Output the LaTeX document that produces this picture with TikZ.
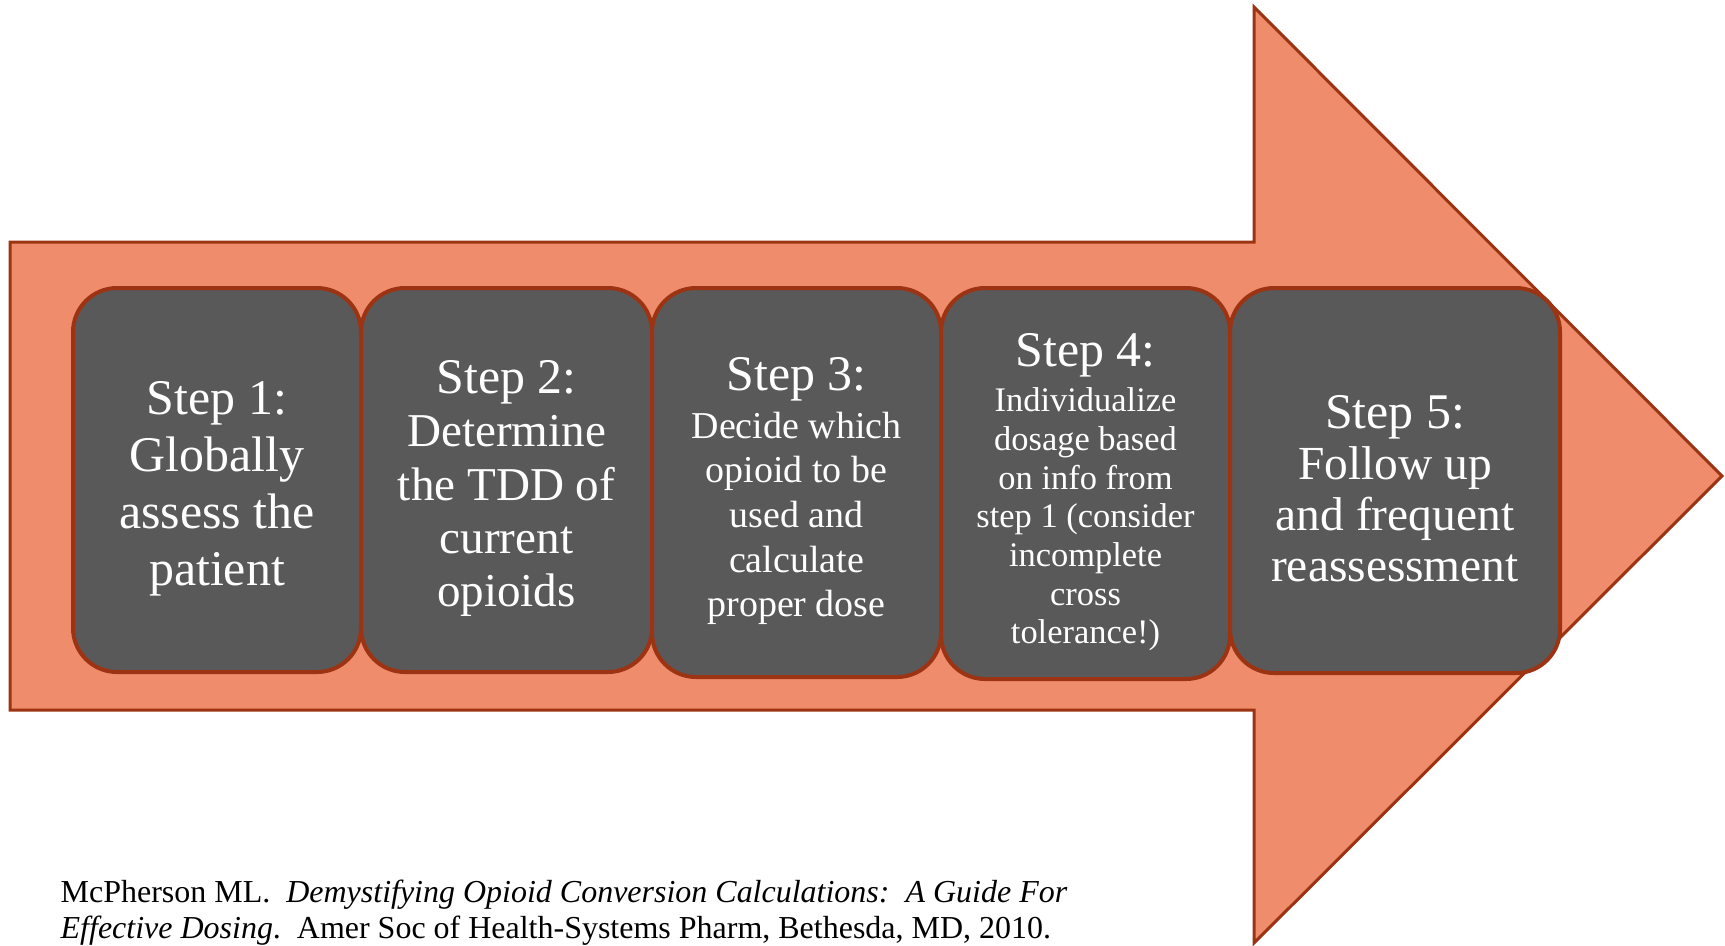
\documentclass[tikz,border=0pt]{standalone}
\usepackage{fontspec}
\setmainfont{Liberation Serif}
\definecolor{salmon}{HTML}{EF8C6B}
\definecolor{rust}{HTML}{9C3313}
\definecolor{boxgray}{HTML}{595959}
\tikzset{
  bigarrow/.style={draw=rust, line width=0.3mm, fill=salmon, line join=miter},
  stepbox/.style={draw=rust, line width=0.4mm, fill=boxgray, rounded corners=4.4mm,
    text=white, align=center, inner sep=0pt, minimum height=38.4mm},
  reftext/.style={align=left, anchor=base west, inner sep=0pt,
    font=\fontsize{9.1}{10}\selectfont}
}
% heading line, with a strut that pushes the text a little down
\newcommand{\stephead}[1]{{\fontsize{14.2}{16}\selectfont\rule{0pt}{5mm}#1}}

\begin{document}
\begin{tikzpicture}[x=0.1mm,y=-0.1mm]
\useasboundingbox (0,0) rectangle (1725,945);
\draw[bigarrow] (10,242) -- (1254,242) -- (1254,7) -- (1722,476)
  -- (1254,943) -- (1254,710) -- (10,710) -- cycle;

\node[stepbox, minimum width=28.8mm, font=\fontsize{14.2}{16.2}\selectfont] (step1) at (217,480)
  {\stephead{Step 1:}\\Globally\\assess the\\patient};
\node[stepbox, minimum width=29.1mm, font=\fontsize{13.4}{15.2}\selectfont] (step2) at (506.5,480)
  {\stephead{Step 2:}\\Determine\\the TDD of\\current\\opioids};
\node[stepbox, minimum width=28.9mm, minimum height=38.9mm, font=\fontsize{10.8}{12.7}\selectfont] (step3) at (796.5,482.5)
  {\stephead{Step 3:}\\[1pt]Decide which\\opioid to be\\used and\\calculate\\proper dose};
\node[stepbox, minimum width=28.9mm, minimum height=39.1mm, font=\fontsize{9.8}{11}\selectfont] (step4) at (1085.5,483.5)
  {\stephead{Step 4:}\\[2pt]Individualize\\dosage based\\on info from\\step 1 (consider\\incomplete\\cross\\tolerance!)};
\node[stepbox, minimum width=33mm, minimum height=38.5mm, font=\fontsize{13.5}{14.5}\selectfont] (step5) at (1395,480.5)
  {\stephead{Step 5:}\\Follow up\\and frequent\\reassessment};

\node[reftext] (ref) at (60,938)
  {McPherson ML.\ \ \textit{Demystifying Opioid Conversion Calculations:\ \ A Guide For}\\
   \textit{Effective Dosing}.\ \ Amer Soc of Health-Systems Pharm, Bethesda, MD, 2010.};
\end{tikzpicture}
\end{document}
